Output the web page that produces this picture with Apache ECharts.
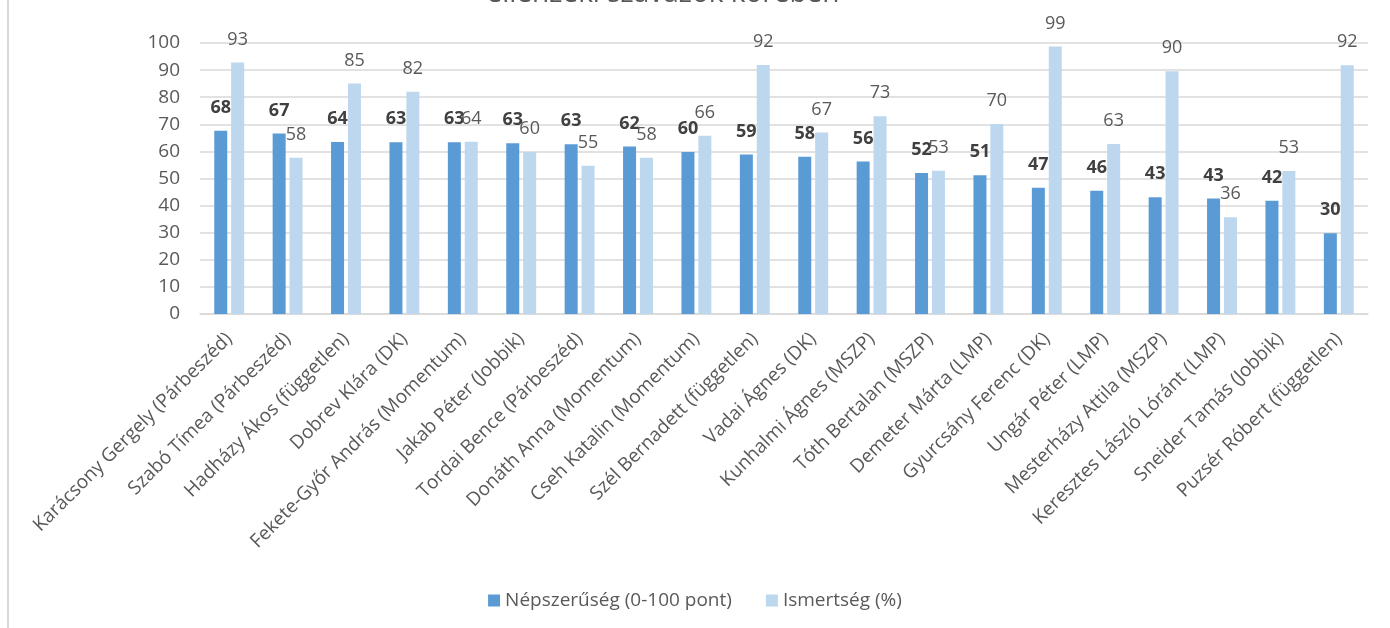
<!DOCTYPE html>
<html>
<head>
<meta charset="utf-8">
<script src="https://cdn.jsdelivr.net/npm/echarts@6/dist/echarts.min.js"></script>
<style>
html,body{margin:0;padding:0;background:#fff;}
#chart{width:1390px;height:628px;}
</style>
</head>
<body>
<div id="chart"></div>
<script>
const titleText = 'ellenzéki szavazók körében';
const categories = [
  'Karácsony Gergely (Párbeszéd)', 'Szabó Tímea (Párbeszéd)', 'Hadházy Ákos (független)',
  'Dobrev Klára (DK)', 'Fekete-Győr András (Momentum)', 'Jakab Péter (Jobbik)',
  'Tordai Bence (Párbeszéd)', 'Donáth Anna (Momentum)', 'Cseh Katalin (Momentum)',
  'Szél Bernadett (független)', 'Vadai Ágnes (DK)', 'Kunhalmi Ágnes (MSZP)',
  'Tóth Bertalan (MSZP)', 'Demeter Márta (LMP)', 'Gyurcsány Ferenc (DK)',
  'Ungár Péter (LMP)', 'Mesterházy Attila (MSZP)', 'Keresztes László Lóránt (LMP)',
  'Sneider Tamás (Jobbik)', 'Puzsér Róbert (független)'
];
const seriesNames = ['Népszerűség (0-100 pont)', 'Ismertség (%)'];
const nepszeruseg = [67.6, 66.6, 63.5, 63.4, 63.4, 63.0, 62.6, 61.8, 59.8, 58.9, 58.0, 56.3, 52.0, 51.2, 46.6, 45.5, 43.1, 42.6, 41.8, 29.8];
const ismertseg = [92.8, 57.7, 85.1, 82.0, 63.6, 59.8, 54.7, 57.7, 65.8, 91.9, 67.0, 73.0, 52.9, 70.1, 98.7, 62.7, 89.6, 35.7, 52.8, 91.8];
const yTicks = {min: 0, max: 100, interval: 10};

const chart = echarts.init(document.getElementById('chart'), null, {renderer: 'canvas'});
const FONT = 'Open Sans';
chart.setOption({
  backgroundColor: '#ffffff',
  animation: false,
  textStyle: {fontFamily: FONT},
  graphic: [
    {type: 'line', shape: {x1: 8, y1: 0, x2: 8, y2: 628}, style: {stroke: '#d9d9d9', lineWidth: 2}},
    {type: 'text', x: 663, y: 8, style: {text: titleText, fontSize: 28, fontFamily: FONT, fill: '#595959', align: 'center', verticalAlign: 'bottom'}}
  ],
  legend: {
    bottom: 13,
    left: 'center',
    itemWidth: 12,
    itemHeight: 12,
    itemGap: 34,
    icon: 'rect',
    textStyle: {color: '#595959', fontSize: 19, fontFamily: FONT},
    data: seriesNames
  },
  grid: {left: 200, right: 22, top: 43, bottom: 314, containLabel: false},
  xAxis: {
    type: 'category',
    data: categories,
    axisLine: {show: true, lineStyle: {color: '#d9d9d9', width: 1.5}},
    axisTick: {show: false},
    axisLabel: {rotate: 45, color: '#595959', fontSize: 19, fontFamily: FONT, margin: 22, interval: 0}
  },
  yAxis: {
    type: 'value',
    min: yTicks.min, max: yTicks.max, interval: yTicks.interval,
    axisLine: {show: false},
    axisTick: {show: false},
    splitLine: {lineStyle: {color: '#d9d9d9', width: 1.5}},
    axisLabel: {color: '#595959', fontSize: 19, fontFamily: FONT, margin: 20}
  },
  series: [
    {
      name: seriesNames[0], type: 'bar', data: nepszeruseg,
      itemStyle: {color: '#5b9bd5'},
      barWidth: 13, barGap: '30%',
      label: {show: true, position: 'top', distance: 14, color: '#404040', fontWeight: 'bold', fontSize: 18, fontFamily: FONT,
        formatter: p => Math.round(p.value)}
    },
    {
      name: seriesNames[1], type: 'bar', data: ismertseg,
      itemStyle: {color: '#bdd7ee'},
      barWidth: 13, barGap: '30%',
      label: {show: true, position: 'top', distance: 14, color: '#595959', fontSize: 18, fontFamily: FONT,
        formatter: p => Math.round(p.value)}
    }
  ]
});
</script>
</body>
</html>
